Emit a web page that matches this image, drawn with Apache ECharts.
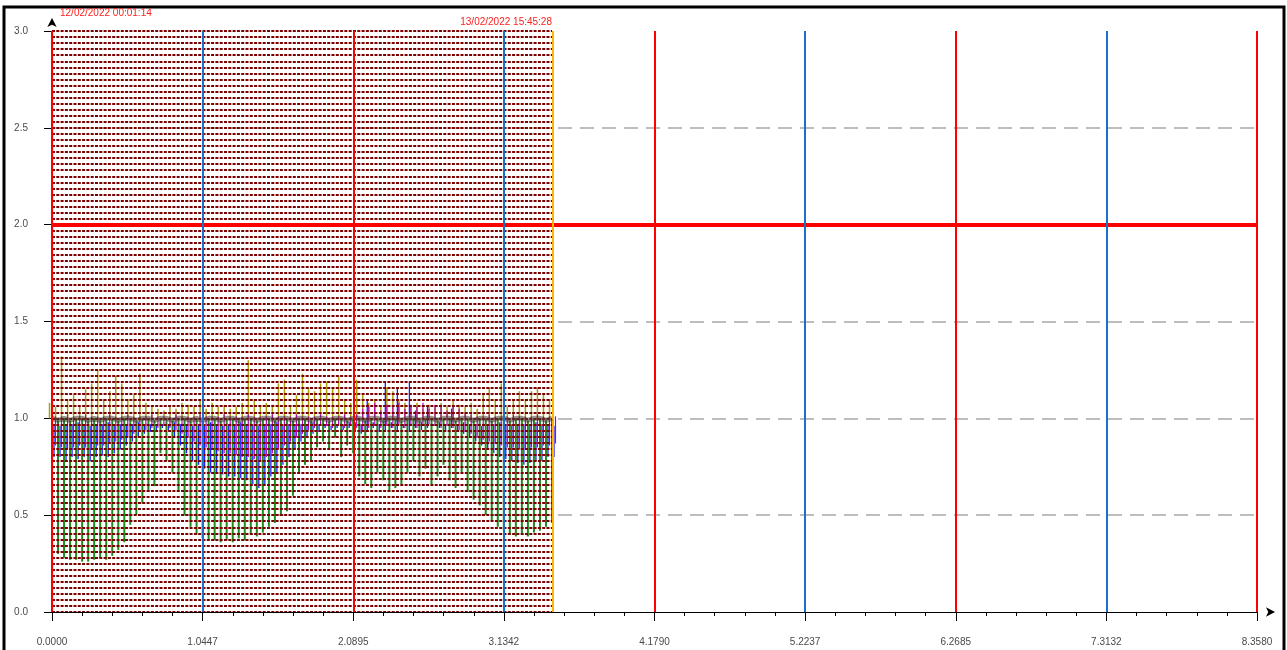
<!DOCTYPE html>
<html>
<head>
<meta charset="utf-8">
<title>Profile</title>
<script src="https://cdn.jsdelivr.net/npm/echarts@6/dist/echarts.min.js"></script>
<style>
  html, body { margin: 0; padding: 0; background: #fff; }
  #chart { width: 1287px; height: 650px; }
</style>
</head>
<body>
<div id="chart"></div>
<script>
  // axes
  var xMax = 8.358
  var xTickLabels = ['0.0000', '1.0447', '2.0895', '3.1342', '4.1790', '5.2237', '6.2685', '7.3132', '8.3580']
  var yTickLabels = ['0.0', '0.5', '1.0', '1.5', '2.0', '2.5', '3.0']
  var limitLevel = 2.0
  var dataEnd = 3.468
  var startStamp = '12/02/2022 00:01:14'
  var endStamp = '13/02/2022 15:45:28'

  // one column per sample
  var greenLow = [
    0.45, 0.30, 0.28, 0.27, 0.27, 0.26, 0.26, 0.27, 0.28, 0.27,
    0.29, 0.32, 0.36, 0.45, 0.50, 0.56, 0.62, 0.65, 0.82, 0.78,
    0.72, 0.62, 0.50, 0.44, 0.40, 0.38, 0.37, 0.37, 0.36, 0.37,
    0.36, 0.38, 0.37, 0.40, 0.39, 0.41, 0.44, 0.46, 0.50, 0.52,
    0.60, 0.72, 0.76, 0.78, 0.85, 0.88, 0.84, 0.90, 0.80, 0.86,
    0.82, 0.70, 0.66, 0.64, 0.72, 0.68, 0.62, 0.64, 0.66, 0.72,
    0.78, 0.70, 0.74, 0.66, 0.70, 0.76, 0.68, 0.64, 0.72, 0.62,
    0.58, 0.55, 0.50, 0.47, 0.44, 0.42, 0.40, 0.39, 0.40, 0.39,
    0.41, 0.42, 0.44, 0.46
  ]
  var meanLevel = [
    1.00, 0.99, 1.00, 0.99, 1.00, 1.00, 0.99, 1.00, 0.99, 1.00,
    1.00, 0.99, 1.00, 1.00, 0.99, 1.00, 1.00, 0.99, 1.00, 1.00,
    0.99, 1.00, 1.00, 0.99, 1.00, 0.99, 1.00, 1.00, 0.99, 1.00,
    1.00, 0.99, 1.00, 1.00, 0.99, 1.00, 1.00, 0.99, 1.00, 1.00,
    0.99, 1.00, 1.00, 0.99, 1.00, 1.00, 0.99, 1.00, 1.00, 0.99,
    1.00, 1.00, 0.99, 1.00, 1.00, 0.99, 1.00, 1.00, 0.99, 1.00,
    1.00, 0.99, 1.00, 1.00, 0.99, 1.00, 1.00, 0.99, 1.00, 1.00,
    0.99, 1.00, 1.00, 0.99, 1.00, 1.00, 0.99, 1.00, 1.00, 0.99,
    1.00, 1.00, 0.99, 1.00
  ]
  var oliveHigh = [
    1.08, 1.06, 1.32, 1.10, 1.12, 1.06, 1.15, 1.18, 1.25, 1.10,
    1.14, 1.22, 1.18, 1.10, 1.12, 1.23, 1.08, 1.06, 1.05, 1.04,
    1.06, 1.05, 1.08, 1.07, 1.06, 1.10, 1.05, 1.08, 1.06, 1.07,
    1.05, 1.06, 1.08, 1.30, 1.10, 1.06, 1.08, 1.07, 1.18, 1.20,
    1.06, 1.12, 1.23, 1.16, 1.14, 1.18, 1.19, 1.16, 1.22, 1.10,
    1.08, 1.20, 1.12, 1.08, 1.10, 1.06, 1.16, 1.14, 1.10, 1.08,
    1.06, 1.08, 1.05, 1.07, 1.06, 1.08, 1.06, 1.10, 1.07, 1.06,
    1.08, 1.05, 1.12, 1.16, 1.10, 1.18, 1.06, 1.10, 1.14, 1.10,
    1.14, 1.16, 1.12, 1.10
  ]
  var blueLow = [
    0.80, 0.80, 0.78, 0.80, 0.79, 0.80, 0.78, 0.80, 0.81, 0.80,
    0.82, 0.84, 0.86, 0.88, 0.90, 0.92, 0.93, 0.94, 0.95, 0.94,
    0.90, 0.86, 0.82, 0.78, 0.76, 0.74, 0.72, 0.72, 0.71, 0.70,
    0.70, 0.69, 0.68, 0.66, 0.64, 0.66, 0.70, 0.72, 0.76, 0.80,
    0.84, 0.88, 0.90, 0.92, 0.93, 0.95, 0.94, 0.95, 0.94, 0.95,
    0.93, 0.92, 0.94, 0.95, 0.93, 0.94, 0.95, 0.94, 0.95, 0.93,
    0.95, 0.94, 0.95, 0.96, 0.95, 0.94, 0.95, 0.93, 0.92, 0.90,
    0.88, 0.86, 0.84, 0.82, 0.80, 0.79, 0.78, 0.77, 0.76, 0.77,
    0.78, 0.78, 0.80, 0.80
  ]
  var blueHigh = [
    0.97, 0.96, 0.97, 0.97, 0.98, 0.97, 0.96, 0.97, 0.97, 0.98,
    0.97, 0.97, 0.96, 0.97, 0.98, 0.97, 0.97, 0.96, 0.97, 0.97,
    0.98, 0.97, 0.97, 0.96, 0.97, 0.97, 0.98, 0.97, 0.96, 0.97,
    0.97, 0.98, 0.97, 0.97, 0.96, 0.97, 0.97, 0.98, 0.97, 0.97,
    0.96, 0.97, 0.97, 0.98, 0.97, 0.97, 0.96, 0.97, 0.97, 0.98,
    0.98, 0.97, 1.10, 0.98, 0.97, 1.19, 0.98, 1.16, 0.97, 1.19,
    1.04, 0.98, 1.06, 0.97, 0.98, 0.97, 1.05, 0.97, 0.98, 0.97,
    0.97, 0.96, 0.97, 0.97, 0.98, 0.97, 0.97, 0.96, 0.97, 0.97,
    0.98, 0.97, 0.97, 0.96
  ]
  var magentaLow = [
    0.86, 0.85, 0.84, 0.85, 0.86, 0.85, 0.84, 0.86, 0.86, 0.87,
    0.88, 0.89, 0.90, 0.92, 0.93, 0.94, 0.95, 0.95, 0.96, 0.95,
    0.94, 0.92, 0.90, 0.88, 0.86, 0.85, 0.84, 0.83, 0.82, 0.82,
    0.81, 0.80, 0.80, 0.79, 0.78, 0.80, 0.82, 0.84, 0.86, 0.88,
    0.90, 0.92, 0.94, 0.95, 0.96, 0.96, 0.95, 0.96, 0.95, 0.96,
    0.95, 0.94, 0.95, 0.96, 0.95, 0.96, 0.95, 0.96, 0.95, 0.96,
    0.95, 0.96, 0.97, 0.96, 0.95, 0.96, 0.95, 0.94, 0.93, 0.92,
    0.90, 0.89, 0.88, 0.87, 0.86, 0.85, 0.85, 0.84, 0.84, 0.85,
    0.85, 0.86, 0.86, 0.87
  ]
  var magentaHigh = [
    1.01, 1.01, 1.02, 1.01, 1.01, 1.02, 1.01, 1.01, 1.01, 1.02,
    1.01, 1.01, 1.02, 1.01, 1.01, 1.01, 1.02, 1.01, 1.01, 1.01,
    1.02, 1.01, 1.01, 1.01, 1.02, 1.01, 1.01, 1.01, 1.02, 1.01,
    1.01, 1.01, 1.02, 1.01, 1.01, 1.01, 1.02, 1.01, 1.01, 1.01,
    1.02, 1.01, 1.01, 1.01, 1.02, 1.01, 1.01, 1.01, 1.02, 1.01,
    1.02, 1.05, 1.06, 1.08, 1.04, 1.07, 1.06, 1.08, 1.05, 1.07,
    1.06, 1.08, 1.05, 1.07, 1.06, 1.04, 1.06, 1.05, 1.03, 1.02,
    1.01, 1.01, 1.02, 1.01, 1.01, 1.01, 1.02, 1.01, 1.01, 1.01,
    1.02, 1.01, 1.01, 1.01
  ]

  var gridLeft = 52
  var gridRight = 30
  var gridTop = 31
  var gridBottom = 38
  var chartWidth = 1287
  var step = dataEnd / (greenLow.length - 1)
  var xInterval = xMax / (xTickLabels.length - 1)
  var plotWidth = chartWidth - gridLeft - gridRight
  var dataWidth = dataEnd / xMax * plotWidth

  function ranges (lows, highs) {
    return lows.map(function (lo, i) {
      return [i * step, lo, highs[i]]
    })
  }

  function stick (color, width, dx) {
    return function (params, api) {
      var a = api.coord([api.value(0), api.value(1)])
      var b = api.coord([api.value(0), api.value(2)])
      return {
        type: 'line',
        shape: { x1: a[0] + dx, y1: a[1], x2: b[0] + dx, y2: b[1] },
        style: { stroke: color, lineWidth: width }
      }
    }
  }

  function stickSeries (name, lows, highs, color, width, dx) {
    return {
      name: name,
      type: 'custom',
      xAxisIndex: 0,
      yAxisIndex: 0,
      renderItem: stick(color, width, dx),
      encode: { x: 0, y: [1, 2] },
      data: ranges(lows, highs),
      silent: true,
      z: 2
    }
  }

  var labelFont = { fontFamily: 'Liberation Sans, Arial, sans-serif', fontSize: 10, color: '#4a4a4a' }

  var myChart = echarts.init(document.getElementById('chart'))
  var option = {
    animation: false,
    backgroundColor: '#fff',
    grid: [
      { left: gridLeft, right: gridRight, top: gridTop, bottom: gridBottom },
      { left: gridLeft, width: dataWidth, top: gridTop, bottom: gridBottom }
    ],
    xAxis: [
      {
        type: 'value',
        gridIndex: 0,
        min: 0,
        max: xMax,
        interval: xInterval,
        z: 10,
        axisLine: {
          lineStyle: { color: '#000', width: 1.2 },
          symbol: ['none', 'arrow'],
          symbolSize: [7, 9],
          symbolOffset: [0, 18]
        },
        axisTick: { show: true, length: 9, lineStyle: { color: '#000' } },
        minorTick: { show: true, splitNumber: 5, length: 4, lineStyle: { color: '#000' } },
        axisLabel: Object.assign({
          margin: 25,
          formatter: function (v) { return xTickLabels[Math.round(v / xInterval)] }
        }, labelFont),
        splitLine: {
          show: true,
          showMinLine: true,
          showMaxLine: true,
          lineStyle: { color: ['#ff0000', '#1a72c8'], width: 2 }
        }
      },
      {
        type: 'value',
        gridIndex: 1,
        min: 0,
        max: dataEnd,
        show: false
      }
    ],
    yAxis: [
      {
        type: 'value',
        gridIndex: 0,
        min: 0,
        max: 3,
        interval: 0.5,
        axisLine: {
          show: true,
          lineStyle: { color: '#000', width: 1.2 },
          symbol: ['none', 'arrow'],
          symbolSize: [7, 9],
          symbolOffset: [0, 13]
        },
        axisTick: { show: true, length: 8, lineStyle: { color: '#000' } },
        axisLabel: Object.assign({
          margin: 24,
          formatter: function (v) { return yTickLabels[Math.round(v / 0.5)] }
        }, labelFont),
        splitLine: {
          show: true,
          showMinLine: false,
          showMaxLine: false,
          lineStyle: { color: '#a8a8a8', width: 1.5, type: [14, 8] }
        }
      },
      {
        type: 'value',
        gridIndex: 1,
        min: 0,
        max: 3,
        interval: 1 / 32,
        z: 5,
        axisLine: { show: false },
        axisTick: { show: false },
        axisLabel: { show: false },
        splitLine: {
          show: true,
          lineStyle: { color: '#7d0000', width: 2, type: [3, 1.3] }
        }
      }
    ],
    graphic: [
      {
        type: 'rect',
        shape: { x: 4, y: 7, width: 1280, height: 700 },
        style: { fill: 'none', stroke: '#000', lineWidth: 3 },
        silent: true
      },
      {
        type: 'text',
        left: 60,
        top: 8,
        style: { text: startStamp, fill: '#ff2020', font: '10px Liberation Sans, Arial, sans-serif' }
      },
      {
        type: 'text',
        right: chartWidth - gridLeft - dataWidth,
        top: 17,
        style: { text: endStamp, fill: '#ff2020', font: '10px Liberation Sans, Arial, sans-serif', textAlign: 'right' }
      }
    ],
    series: [
      stickSeries('Min', greenLow, meanLevel, '#1e8c1e', 2, 0),
      stickSeries('Max', meanLevel, oliveHigh, '#aaa010', 1.5, -2.5),
      stickSeries('Phase B', blueLow, blueHigh, '#2020ff', 1.3, 2),
      stickSeries('Phase C', magentaLow, magentaHigh, '#b400b4', 1.2, 3.5),
      {
        name: 'Mean',
        type: 'line',
        xAxisIndex: 0,
        yAxisIndex: 0,
        data: meanLevel.map(function (v, i) { return [i * step, v] }),
        showSymbol: false,
        silent: true,
        lineStyle: { color: 'rgba(70, 60, 50, 0.55)', width: 5 },
        z: 6
      },
      {
        name: 'Limits',
        type: 'line',
        xAxisIndex: 0,
        yAxisIndex: 0,
        data: [],
        z: 8,
        markLine: {
          silent: true,
          symbol: 'none',
          label: { show: false },
          data: [
            { yAxis: limitLevel, lineStyle: { color: '#ff0000', width: 4, type: 'solid' } },
            { xAxis: dataEnd, lineStyle: { color: '#ffb400', width: 2, type: 'solid' } }
          ]
        }
      }
    ]
  }
  myChart.setOption(option)
</script>
</body>
</html>
